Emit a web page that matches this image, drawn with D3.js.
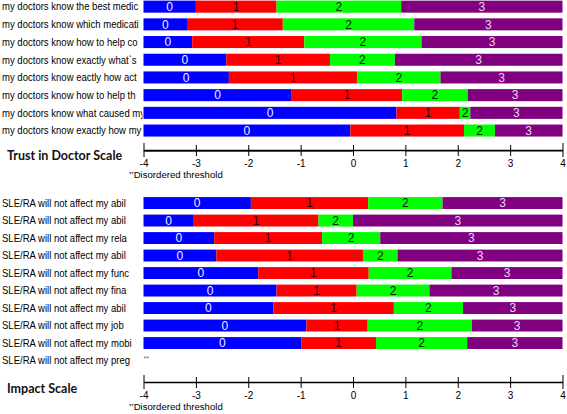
<!DOCTYPE html>
<html><head><meta charset="utf-8">
<script src="https://cdn.jsdelivr.net/npm/d3@7"></script>
<style>body{margin:0;background:#fff}svg{display:block}</style>
</head><body>
<script>
// ---- data ----
const categoryNames = ["0", "1", "2", "3"];
const trustLabels = [
  "my doctors know the best medic",
  "my doctors know which medicati",
  "my doctors know how to help co",
  "my doctors know exactly what`s",
  "my doctors know eactly how act",
  "my doctors know how to help th",
  "my doctors know what caused my",
  "my doctors know exactly how my"
];
// Rasch-Andrich thresholds (boundaries between categories 0|1, 1|2, 2|3)
const trustThresholds = [
  [-3.00, -1.46, 0.92],
  [-3.17, -1.34, 1.17],
  [-3.07, -0.93, 1.31],
  [-2.42, -0.44, 0.80],
  [-2.37, 0.08, 1.67],
  [-1.17, 0.94, 2.19],
  [0.83, 2.04, 2.24],
  [-0.05, 2.12, 2.71]
];
const impactLabels = [
  "SLE/RA will not affect my abil",
  "SLE/RA will not affect my abil",
  "SLE/RA will not affect my rela",
  "SLE/RA will not affect my abil",
  "SLE/RA will not affect my func",
  "SLE/RA will not affect my fina",
  "SLE/RA will not affect my abil",
  "SLE/RA will not affect my job",
  "SLE/RA will not affect my mobi",
  "SLE/RA will not affect my preg"
];
const impactThresholds = [
  [-1.95, 0.29, 1.71],
  [-3.04, -0.66, 0.00],
  [-2.65, -0.59, 0.52],
  [-2.61, 0.19, 0.85],
  [-1.81, 0.30, 1.88],
  [-1.46, 0.07, 1.46],
  [-1.52, 0.78, 2.10],
  [-0.89, 0.28, 2.27],
  [-0.99, 0.44, 2.18],
  null
];
const axisTicks = [-4, -3, -2, -1, 0, 1, 2, 3, 4];
const panelTitles = ["Trust in Doctor Scale", "Impact Scale"];
const footnote = "Disordered threshold";

// ---- styles ----
const segColors = ["#0000ff", "#ff0000", "#00ff00", "#800080"];
const segText = ["#f0f0ff", "#2a0010", "#0a200a", "#e8d8f0"];

const W = 567, H = 414;
const svg = d3.select("body").append("svg").attr("width", W).attr("height", H);
const x = d3.scaleLinear().domain([-4, 4]).range([143.5, 562.5]);
const labelFont = "'Liberation Sans', Arial, sans-serif";

function panel(labels, thresholds, yRange, axisY, title, titleY) {
  const g = svg.append("g");
  const y = d3.scaleBand().domain(d3.range(labels.length)).range(yRange)
    .paddingInner(0.32).paddingOuter(0.16);
  // row labels (clipped by the bars drawn later)
  g.append("g").attr("transform", "translate(2,0) scale(0.9,1)")
    .selectAll("text.lab").data(labels).join("text")
    .attr("class", "lab")
    .attr("x", 0).attr("y", (d, i) => y(i) + y.bandwidth() / 2 + 3.8)
    .attr("font-family", labelFont).attr("font-size", 10.6)
    .attr("fill", "#000").text(d => d);
  g.append("rect").attr("x", x(-4) - 1).attr("y", yRange[0]).attr("width", 2)
    .attr("height", yRange[1] - yRange[0]).attr("fill", "#fff");
  thresholds.forEach((t, i) => {
    const row = g.append("g");
    if (!t) {
      row.append("text").attr("x", x(-4)).attr("y", y(i) + y.bandwidth() / 2)
        .attr("font-family", labelFont).attr("font-size", 7).attr("fill", "#666")
        .text("**");
      return;
    }
    const bounds = [-4, ...t, 4];
    const segs = categoryNames.map((c, k) => ({ c, k, a: bounds[k], b: bounds[k + 1] }));
    row.selectAll("rect").data(segs).join("rect")
      .attr("x", d => x(d.a)).attr("y", y(i))
      .attr("width", d => Math.max(0, x(d.b) - x(d.a))).attr("height", y.bandwidth())
      .attr("fill", d => segColors[d.k]);
    row.selectAll("text").data(segs).join("text")
      .attr("x", d => (x(d.a) + x(d.b)) / 2).attr("y", y(i) + y.bandwidth() / 2 + 4.3)
      .attr("text-anchor", "middle")
      .attr("font-family", labelFont).attr("font-size", 12)
      .attr("fill", d => segText[d.k]).text(d => d.c);
  });
  // axis
  const ax = g.append("g").attr("transform", `translate(0,${axisY})`);
  ax.call(d3.axisBottom(x).tickValues(axisTicks).tickFormat(d => String(d))
    .tickSize(6).tickSizeOuter(0))
    .call(s => s.select(".domain").attr("stroke", "#000").attr("stroke-width", 1.6))
    .call(s => s.selectAll(".tick line").attr("y1", -5).attr("y2", 6).attr("stroke", "#000"))
    .call(s => s.selectAll(".tick text").attr("dy", 0).attr("y", 17)
      .attr("font-family", labelFont).attr("font-size", 10).attr("fill", "#000"));
  ax.selectAll(".tick").filter(d => d === -4 || d === 4).select("line").attr("y1", -7).attr("y2", 7);
  g.append("text").attr("x", 7).attr("y", titleY)
    .attr("font-family", "Lato, 'Open Sans', sans-serif").attr("font-weight", "bold")
    .attr("font-size", 12.5).attr("fill", "#111").text(title);
  const fn = g.append("text").attr("x", 129).attr("y", axisY + 28)
    .attr("font-family", labelFont).attr("font-size", 9.6).attr("fill", "#000");
  fn.append("tspan").attr("font-size", 6).attr("dy", -2).text("**");
  fn.append("tspan").attr("dy", 2).text(footnote);
  return ax;
}

const topAx = panel(trustLabels, trustThresholds, [-2.2, 139.4], 150, panelTitles[0], 160);
// faint coloured shadow under the upper axis
topAx.insert("line", ":first-child").attr("x1", x(-4)).attr("x2", x(0)).attr("y1", 1.5).attr("y2", 1.5)
  .attr("stroke", "#4a4aff").attr("stroke-width", 1);
topAx.insert("line", ":first-child").attr("x1", x(1)).attr("x2", x(4)).attr("y1", 1.5).attr("y2", 1.5)
  .attr("stroke", "#ff8080").attr("stroke-width", 1);
panel(impactLabels, impactThresholds, [194.3, 369.3], 382, panelTitles[1], 393);
</script>
</body></html>
